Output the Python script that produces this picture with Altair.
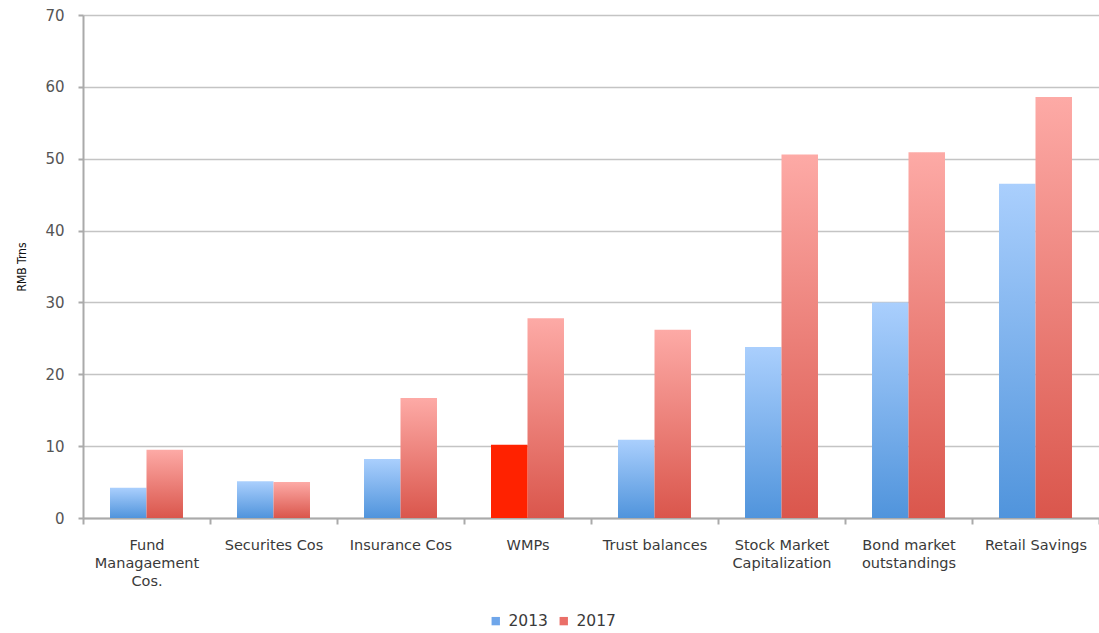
import altair as alt
import pandas as pd

categories = [
    "Fund\nManagaement\nCos.",
    "Securites Cos",
    "Insurance Cos",
    "WMPs",
    "Trust balances",
    "Stock Market\nCapitalization",
    "Bond market\noutstandings",
    "Retail Savings",
]
years = ["2013", "2017"]
values_2013 = [4.2, 5.1, 8.2, 10.2, 10.9, 23.8, 30.0, 46.5]
values_2017 = [9.5, 5.0, 16.7, 27.8, 26.2, 50.6, 50.9, 58.6]
highlight = "WMPs"

rows = []
for c, a, b in zip(categories, values_2013, values_2017):
    rows.append({"category": c, "year": "2013", "value": a})
    rows.append({"category": c, "year": "2017", "value": b})
df = pd.DataFrame(rows)

FONT = "DejaVu Sans"

blue_grad = alt.LinearGradient(
    gradient="linear", x1=0, y1=0, x2=0, y2=1,
    stops=[alt.GradientStop(color="#aacffd", offset=0),
           alt.GradientStop(color="#5094dc", offset=1)],
)
red_grad = alt.LinearGradient(
    gradient="linear", x1=0, y1=0, x2=0, y2=1,
    stops=[alt.GradientStop(color="#fdaaa6", offset=0),
           alt.GradientStop(color="#da564c", offset=1)],
)

base = alt.Chart(df).encode(
    x=alt.X(
        "category:N",
        sort=categories,
        scale=alt.Scale(paddingInner=0, paddingOuter=0),
        axis=alt.Axis(
            title=None,
            labelAngle=0,
            labelExpr="split(datum.label, '\\n')",
            labelFont=FONT,
            labelFontSize=14.5,
            labelColor="#3a3a3a",
            labelLineHeight=18,
            labelPadding=14,
            tickBand="extent",
            tickSize=6,
            tickColor="#aaaaaa",
            tickWidth=2,
            domainColor="#aaaaaa",
            domainWidth=2,
            grid=False,
        ),
    ),
    xOffset=alt.XOffset(
        "year:N",
        scale=alt.Scale(domain=years, paddingOuter=0.74, paddingInner=0),
    ),
    y=alt.Y(
        "value:Q",
        scale=alt.Scale(domain=[0, 70], nice=False),
        axis=alt.Axis(
            title="RMB Trns",
            titleFont="DejaVu Sans Condensed",
            titleFontSize=12,
            titleFontWeight="normal",
            titleColor="#111111",
            titlePadding=16,
            values=[0, 10, 20, 30, 40, 50, 60, 70],
            labelFont=FONT,
            labelFontSize=15,
            labelColor="#555555",
            labelPadding=14,
            tickSize=5,
            tickColor="#aaaaaa",
            tickWidth=2,
            domainColor="#aaaaaa",
            domainWidth=2,
            grid=True,
            gridColor="#c4c4c4",
            gridWidth=1.5,
        ),
    ),
)

bars2013 = base.transform_filter(
    (alt.datum.year == "2013") & (alt.datum.category != highlight)
).mark_bar(fill=blue_grad)

bars2017 = base.transform_filter(alt.datum.year == "2017").mark_bar(fill=red_grad)

bar_hl = base.transform_filter(
    (alt.datum.year == "2013") & (alt.datum.category == highlight)
).mark_bar(fill="#ff2200")

legend_layer = base.mark_square(opacity=0).encode(
    color=alt.Color(
        "year:N",
        scale=alt.Scale(domain=years, range=["#6fa6ea", "#ea6f68"]),
        legend=alt.Legend(
            title=None,
            orient="none",
            direction="horizontal",
            legendX=405,
            legendY=598,
            symbolType="square",
            symbolSize=70,
            symbolOpacity=1,
            symbolStrokeWidth=0,
            labelFont=FONT,
            labelFontSize=15.5,
            labelColor="#3a3a3a",
            columnPadding=8,
            labelOffset=5,
        ),
    )
)

chart = alt.layer(legend_layer, bars2013, bars2017, bar_hl).properties(
    width=1016,
    height=503,
    autosize=alt.AutoSizeParams(type="none"),
    padding={"left": 83, "top": 15, "right": 0, "bottom": 115},
).configure_view(stroke=None)

chart.save("out.html", embed_options={"renderer": "svg", "actions": False})
